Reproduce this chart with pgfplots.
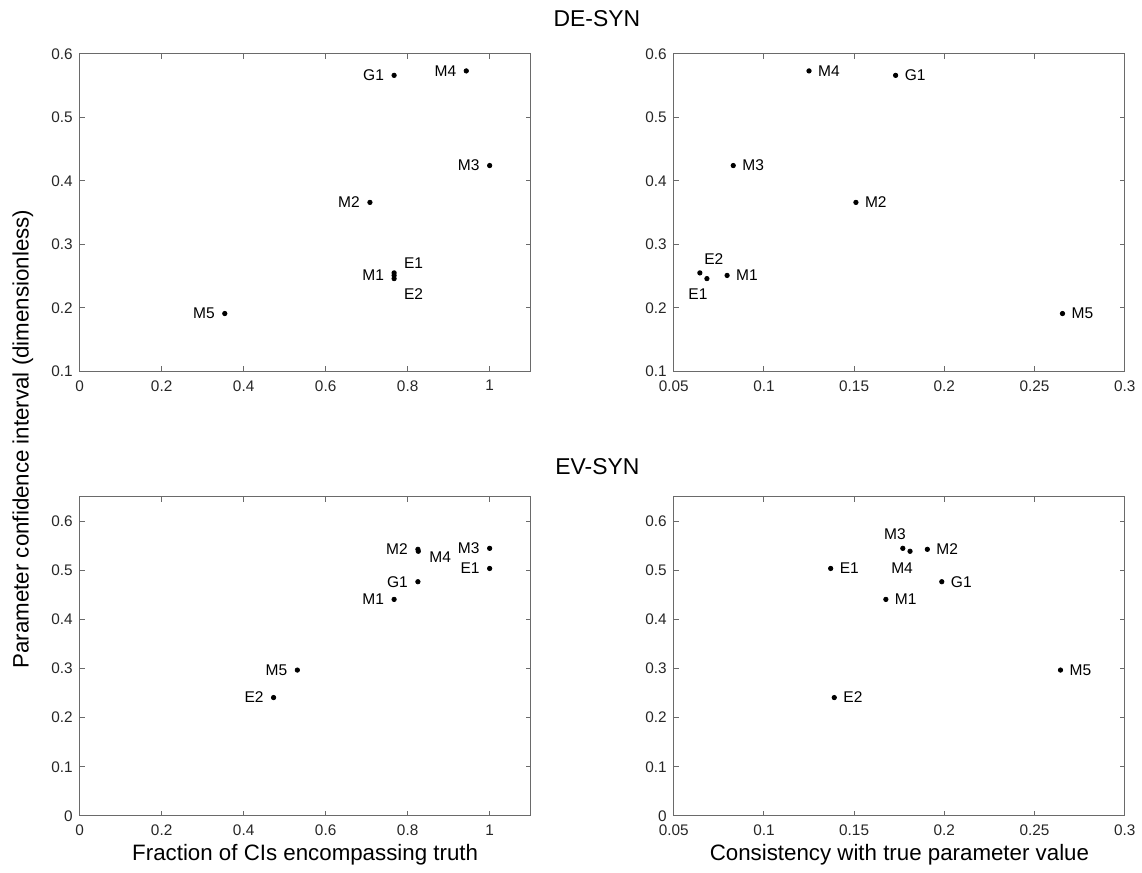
\documentclass[border=0pt]{standalone}
\usepackage{fontspec}
\setmainfont{Liberation Sans}
\usepackage{pgfplots}
\usepackage{pgfplotstable}
\pgfplotsset{compat=1.18}

\definecolor{axgray}{HTML}{6A6A6A}
\definecolor{ticktxt}{HTML}{262626}

% name x y dx dy : label centre offset from the dot, in pt
\pgfplotstableread{
name x y dx dy
G1 0.767 0.566 -10.3 0
M4 0.943 0.573 -10.5 0
M3 1.000 0.424 -10.5 0
M2 0.708 0.366 -10.5 0
M1 0.767 0.251 -10.5 0
E1 0.767 0.255 9.8 5
E2 0.767 0.246 9.8 -8
M5 0.354 0.191 -10.5 0
}\deTableL

\pgfplotstableread{
name x y dx dy
G1 0.173 0.566 9.8 0
M4 0.125 0.573 10 0
M3 0.083 0.424 10 0
M2 0.151 0.366 10 0
M1 0.0796 0.251 10 0
E1 0.0684 0.246 -4.5 -8
E2 0.0645 0.255 7 7
M5 0.2655 0.191 10 0
}\deTableR

\pgfplotstableread{
name x y dx dy
M2 0.825 0.543 -10.5 0
M4 0.826 0.539 11 -3
M3 1.000 0.545 -10.5 0
E1 1.000 0.504 -9.8 0
G1 0.825 0.477 -10.3 0
M1 0.767 0.441 -10.5 0
M5 0.531 0.297 -10.5 0
E2 0.473 0.241 -9.8 0
}\evTableL

\pgfplotstableread{
name x y dx dy
M3 0.177 0.545 -4 7
M4 0.181 0.539 -4 -8.5
M2 0.1906 0.543 10 0
E1 0.137 0.504 9.4 0
G1 0.1986 0.477 9.8 0
M1 0.1676 0.441 10 0
E2 0.139 0.241 9.4 0
M5 0.2644 0.297 10 0
}\evTableR

\pgfplotsset{
  panel/.style={
    scale only axis,
    width=226.5pt,
    clip=false,
    axis line style={axgray, line width=0.5pt},
    tick style={axgray, line width=0.5pt},
    tick align=inside,
    major tick length=2.5pt,
    tick label style={font=\fontsize{7.7}{9}\selectfont, text=ticktxt},
    xticklabel style={yshift=-1pt},
    /pgf/number format/assume math mode=true,
    /pgf/number format/.cd, fixed, precision=2,
  },
  labelled/.style={
    only marks, mark=*, mark size=1.1pt, black,
    point meta=explicit symbolic,
    visualization depends on={\thisrow{dx} \as \dx},
    visualization depends on={\thisrow{dy} \as \dy},
    nodes near coords,
    nodes near coords style={anchor=center, xshift=\dx pt, yshift=\dy pt,
      inner sep=0pt, font=\fontsize{7.8}{9}\selectfont, text=black},
  },
}

\begin{document}
\begin{tikzpicture}
\path (0,0) rectangle (571pt,436.5pt);

% DE-SYN, left
\begin{axis}[panel, at={(40pt,250pt)}, anchor=south west, height=159.5pt,
  xmin=0, xmax=1.1, ymin=0.1, ymax=0.6,
  xtick={0,0.2,...,1}, ytick={0.1,0.2,...,0.6}]
\addplot[labelled] table[x=x, y=y, meta=name] {\deTableL};
\end{axis}

% DE-SYN, right
\begin{axis}[panel, at={(338.35pt,250pt)}, anchor=south west, height=159.5pt,
  xmin=0.05, xmax=0.3, ymin=0.1, ymax=0.6,
  xtick={0.05,0.1,0.15,0.2,0.25,0.3}, ytick={0.1,0.2,...,0.6}]
\addplot[labelled] table[x=x, y=y, meta=name] {\deTableR};
\end{axis}

% EV-SYN, left
\begin{axis}[panel, at={(40pt,26.75pt)}, anchor=south west, height=160.25pt,
  xmin=0, xmax=1.1, ymin=0, ymax=0.65,
  xtick={0,0.2,...,1}, ytick={0,0.1,...,0.6}]
\addplot[labelled] table[x=x, y=y, meta=name] {\evTableL};
\end{axis}

% EV-SYN, right
\begin{axis}[panel, at={(338.35pt,26.75pt)}, anchor=south west, height=160.25pt,
  xmin=0.05, xmax=0.3, ymin=0, ymax=0.65,
  xtick={0.05,0.1,0.15,0.2,0.25,0.3}, ytick={0,0.1,...,0.6}]
\addplot[labelled] table[x=x, y=y, meta=name] {\evTableR};
\end{axis}

\node[font=\fontsize{11.5}{13}\selectfont] at (299.75pt,427.3pt) {DE-SYN};
\node[font=\fontsize{11.5}{13}\selectfont] at (300pt,202.1pt) {EV-SYN};
\node[anchor=base, font=\fontsize{11.2}{13}\selectfont] at (153.25pt,4.2pt)
  {Fraction of CIs encompassing truth};
\node[anchor=base, font=\fontsize{11.2}{13}\selectfont] at (451.7pt,4.2pt)
  {Consistency with true parameter value};
\node[rotate=90, font=\fontsize{11.2}{13}\selectfont] at (11.5pt,216pt)
  {Parameter confidence interval (dimensionless)};
\end{tikzpicture}
\end{document}
